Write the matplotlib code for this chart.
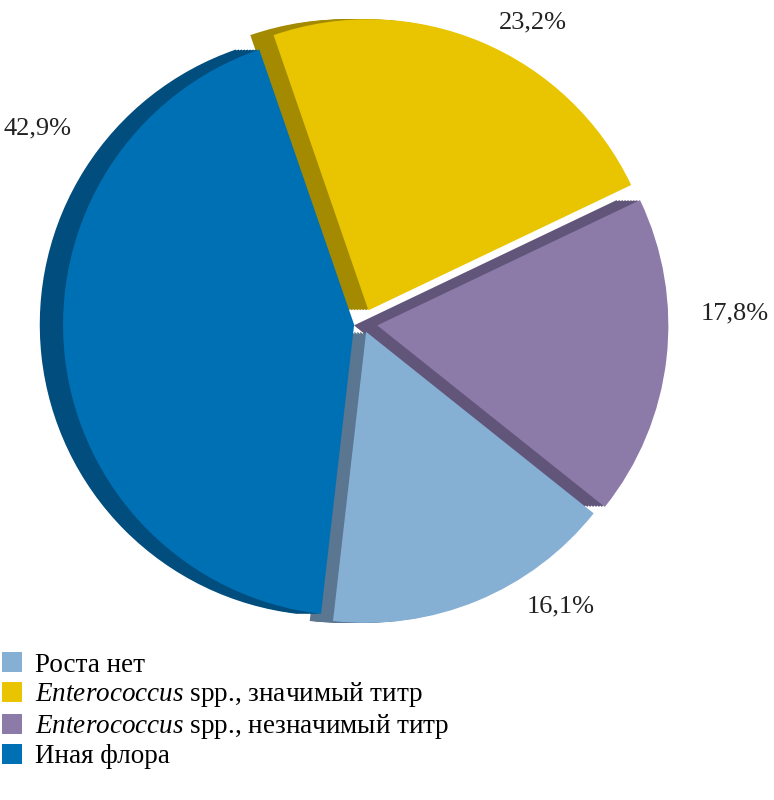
import numpy as np
import matplotlib.pyplot as plt
from matplotlib.patches import Patch

plt.rcParams['font.family'] = ['Liberation Serif', 'DejaVu Serif']
plt.rcParams['mathtext.fontset'] = 'custom'
plt.rcParams['mathtext.it'] = 'Liberation Serif:italic'
plt.rcParams['mathtext.rm'] = 'Liberation Serif'

# order around the pie, counterclockwise from start angle
names = ["Enterococcus spp., значимый титр", "Иная флора", "Роста нет",
         "Enterococcus spp., незначимый титр"]
values = [23.2, 42.9, 16.1, 17.8]
labels = ["23,2%", "42,9%", "16,1%", "17,8%"]
colors = ["#e8c500", "#0070b4", "#86afd4", "#8c7aa9"]
dark = ["#a48a00", "#004d7e", "#5a7690", "#62557a"]
explode = [0.05, 0.03, 0.03, 0.05]

fig = plt.figure(figsize=(7.74, 8), dpi=100)
ax = fig.add_axes([0.058, 0.206, 0.814, 0.775])
ax.set_aspect('equal')

# depth / side layer
for dx in np.linspace(-0.08, -0.01, 8):
    ax.pie(values, colors=dark, startangle=25.5, explode=explode,
           center=(dx, 0.0), radius=1.0)
ax.pie(values, colors=colors, startangle=25.5, explode=explode, radius=1.0)
ax.set_xlim(-1.09, 1.07)
ax.set_ylim(-1.07, 1.06)
ax.axis('off')

pos = [(0.645, 0.972), (0.005, 0.84), (0.68, 0.242), (0.905, 0.608)]
for (x, y), t in zip(pos, labels):
    fig.text(x, y, t, fontsize=19, ha='left', va='center', color='#222222')

leg_items = [("Роста нет", colors[2]),
             (r"$\it{Enterococcus}$ spp., значимый титр", colors[0]),
             (r"$\it{Enterococcus}$ spp., незначимый титр", colors[3]),
             ("Иная флора", colors[1])]
handles = [Patch(facecolor=c, edgecolor='none') for _, c in leg_items]
fig.legend(handles, [t for t, _ in leg_items], loc='lower left',
           bbox_to_anchor=(-0.012, 0.025), frameon=False, fontsize=19.5,
           handlelength=0.75, handleheight=0.75, handletextpad=0.5,
           labelspacing=0.1, borderaxespad=0)

fig.savefig("out.png", dpi=100)
